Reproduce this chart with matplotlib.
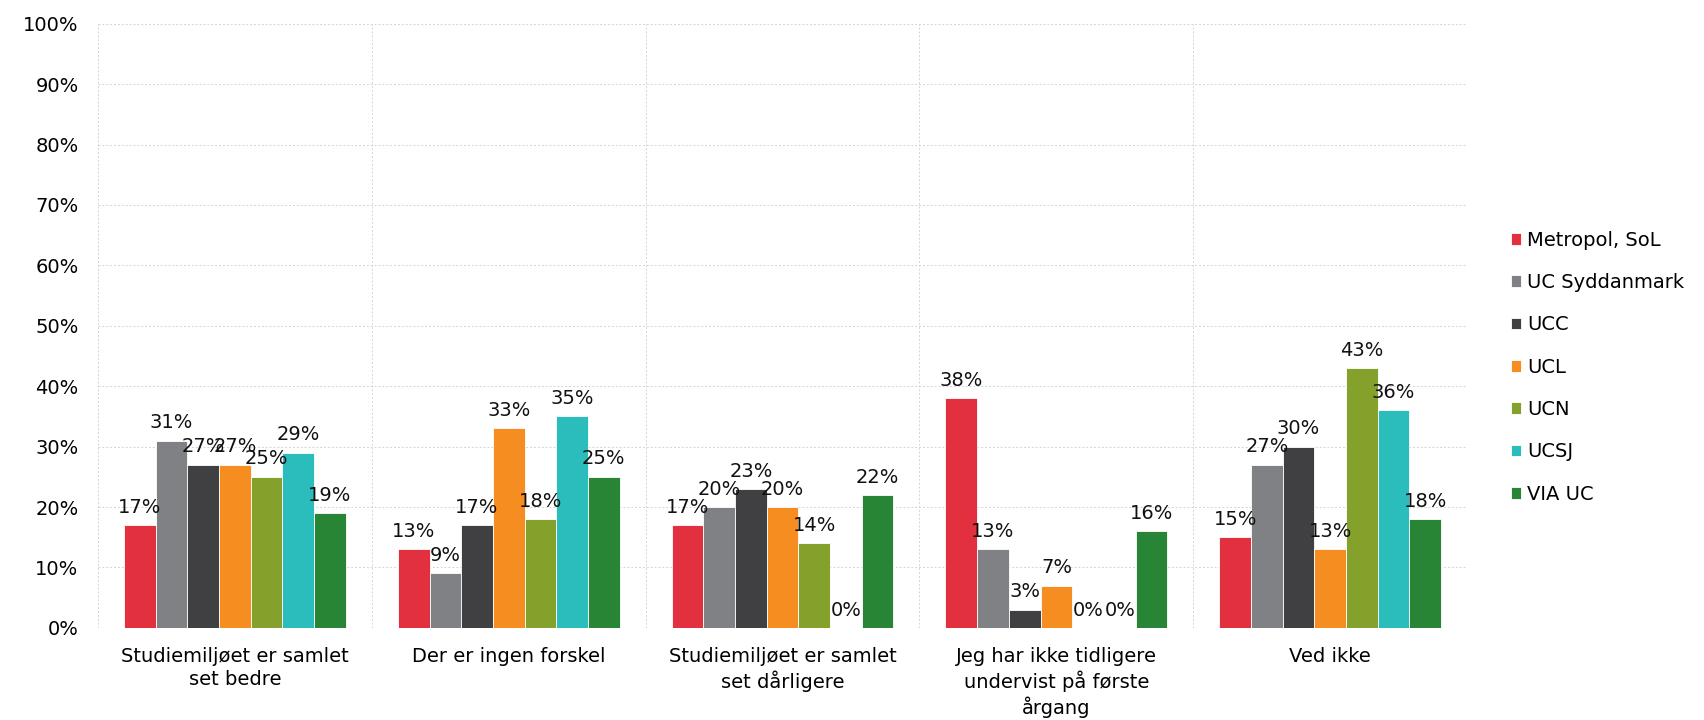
import numpy as np
import matplotlib.pyplot as plt

# Categories (x axis) and series (one per school)
categories = ['Studiemiljøet er samlet\nset bedre',
              'Der er ingen forskel',
              'Studiemiljøet er samlet\nset dårligere',
              'Jeg har ikke tidligere\nundervist på første\nårgang',
              'Ved ikke']
series_names = ['Metropol, SoL', 'UC Syddanmark', 'UCC', 'UCL', 'UCN', 'UCSJ', 'VIA UC']

metropol = [17, 13, 17, 38, 15]
syddanmark = [31, 9, 20, 13, 27]
ucc = [27, 17, 23, 3, 30]
ucl = [27, 33, 20, 7, 13]
ucn = [25, 18, 14, 0, 43]
ucsj = [29, 35, 0, 0, 36]
via = [19, 25, 22, 16, 18]

colors = ['#E3303E', '#808184', '#404042', '#F58D21', '#83A12B', '#2BBDBB', '#288536']

values = [metropol, syddanmark, ucc, ucl, ucn, ucsj, via]

plt.rcParams['font.family'] = ['DejaVu Sans']
fs = 14

fig = plt.figure(figsize=(17.04, 7.2), dpi=100)
ax = fig.add_axes([0.0575, 0.128, 0.8035, 0.839])

x = np.arange(len(categories))
nser = len(series_names)
width = 0.81 / nser

for i in range(nser):
    pos = x - 0.405 + width * (i + 0.5)
    ax.bar(pos, values[i], width, color=colors[i], label=series_names[i],
           edgecolor='white', linewidth=0.6, zorder=3)
    for p, v in zip(pos, values[i]):
        ax.annotate('%d%%' % v, (p, v), xytext=(0, 6), textcoords='offset points',
                    ha='center', va='bottom', fontsize=fs, color='#111111', zorder=4)

ax.set_ylim(0, 100)
ax.set_xlim(-0.5, len(categories) - 0.5)
ax.set_yticks(np.arange(0, 101, 10))
ax.set_yticklabels(['%d%%' % t for t in range(0, 101, 10)], fontsize=fs)
ax.set_xticks(x)
ax.set_xticklabels(categories, fontsize=fs, linespacing=1.25)
ax.set_xticks(np.arange(-0.5, len(categories)), minor=True)
ax.tick_params(axis='both', which='both', length=0)
ax.tick_params(axis='x', pad=14)
ax.tick_params(axis='y', pad=14)

ax.grid(True, axis='y', which='major', color='#D4D4D4', linestyle=(0, (2, 2)), linewidth=0.7, zorder=0)
ax.grid(True, axis='x', which='minor', color='#D4D4D4', linestyle=(0, (2, 2)), linewidth=0.7, zorder=0)
ax.grid(False, axis='x', which='major')
for s in ax.spines.values():
    s.set_visible(False)

ax.legend(loc='center left', bbox_to_anchor=(0.882, 0.49), bbox_transform=fig.transFigure,
          frameon=False, fontsize=fs, handlelength=0.55, handleheight=0.55,
          handletextpad=0.3, labelspacing=1.2, borderaxespad=0)

fig.savefig('out.png', dpi=100)
